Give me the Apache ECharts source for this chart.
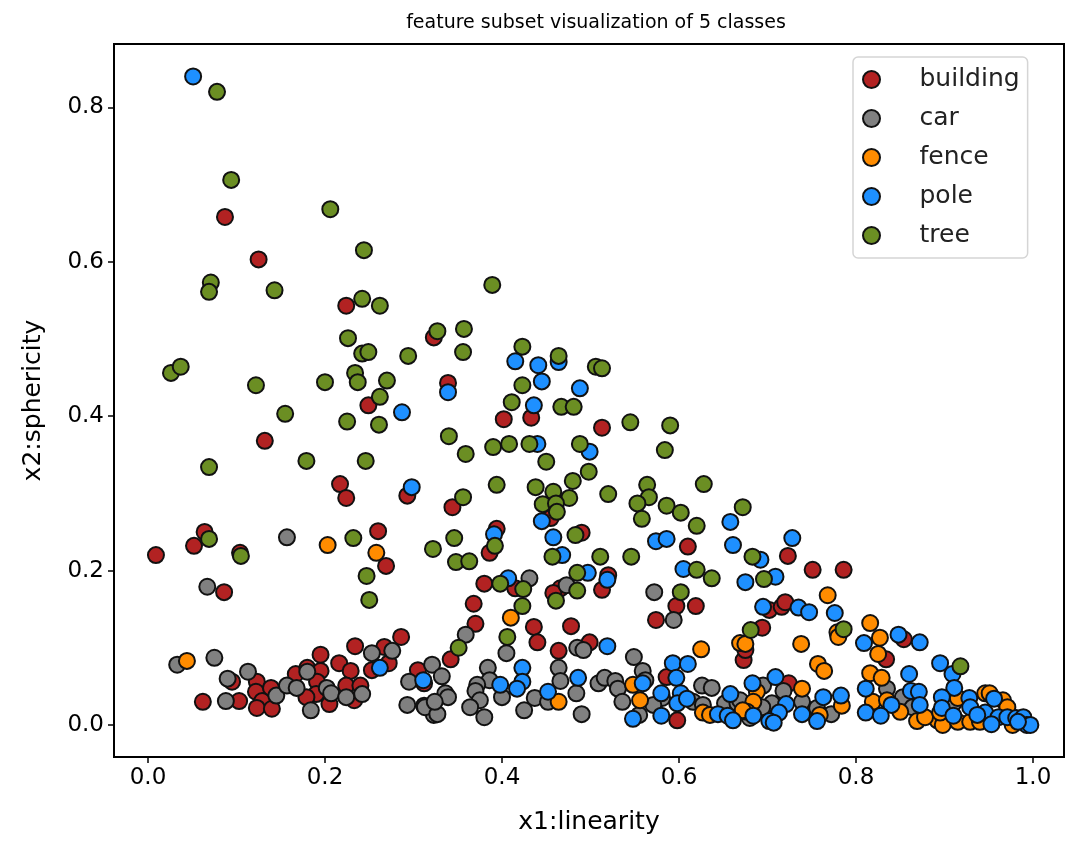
<!DOCTYPE html>
<html>
<head>
<meta charset="utf-8">
<style>html,body{margin:0;padding:0;background:#fff}#c{width:1066px;height:841px}</style>
<script src="https://cdn.jsdelivr.net/npm/echarts@6/dist/echarts.min.js"></script>
</head>
<body>
<div id="c"></div>
<script>
const xTicks = [0, 0.2, 0.4, 0.6, 0.8, 1.0];
const yTicks = [0, 0.2, 0.4, 0.6, 0.8];
const classNames = ['building', 'car', 'fence', 'pole', 'tree'];
const classColors = ['#b22222', '#808080', '#ff8c00', '#1e90ff', '#6b8e23'];

const building = [[.009,.220],[.087,.658],[.125,.603],[.224,.543],[.132,.368],[.323,.502],[.339,.443],[.249,.414],[.402,.396],[.433,.398],[.513,.385],[.217,.312],[.224,.294],[.293,.297],[.260,.251],[.064,.250],[.052,.232],[.104,.223],[.086,.172],[.269,.206],[.344,.282],[.394,.254],[.386,.223],[.380,.183],[.368,.157],[.370,.131],[.436,.127],[.440,.107],[.464,.096],[.478,.128],[.499,.107],[.513,.175],[.520,.194],[.490,.249],[.455,.268],[.610,.231],[.415,.177],[.466,.177],[.458,.171],[.597,.154],[.619,.154],[.574,.136],[.342,.085],[.586,.062],[.598,.006],[.751,.201],[.786,.201],[.723,.219],[.702,.149],[.716,.153],[.720,.159],[.694,.126],[.673,.084],[.675,.097],[.724,.054],[.834,.085],[.854,.111],[.062,.030],[.103,.031],[.095,.056],[.123,.056],[.122,.043],[.129,.031],[.123,.022],[.140,.021],[.139,.048],[.167,.066],[.180,.074],[.195,.091],[.195,.070],[.191,.056],[.190,.040],[.179,.036],[.205,.027],[.216,.080],[.229,.070],[.224,.051],[.240,.051],[.233,.032],[.234,.102],[.267,.101],[.286,.114],[.272,.080],[.253,.071],[.305,.071],[.312,.054]];

const car = [[.157,.243],[.067,.179],[.033,.078],[.075,.087],[.090,.060],[.113,.069],[.088,.031],[.145,.038],[.157,.051],[.168,.048],[.180,.069],[.184,.019],[.202,.048],[.207,.041],[.224,.036],[.242,.040],[.253,.093],[.276,.096],[.295,.056],[.321,.078],[.293,.026],[.312,.025],[.323,.013],[.332,.063],[.336,.041],[.339,.036],[.313,.023],[.327,.014],[.324,.030],[.384,.074],[.386,.058],[.372,.052],[.370,.044],[.375,.032],[.364,.023],[.380,.010],[.400,.036],[.405,.093],[.359,.117],[.464,.074],[.466,.057],[.484,.041],[.437,.035],[.425,.019],[.452,.030],[.490,.014],[.509,.054],[.516,.061],[.528,.057],[.531,.047],[.536,.030],[.549,.088],[.559,.070],[.562,.058],[.555,.013],[.581,.035],[.571,.026],[.594,.136],[.485,.100],[.492,.097],[.616,.030],[.626,.051],[.637,.048],[.627,.026],[.652,.028],[.666,.028],[.431,.190],[.473,.181],[.572,.172],[.718,.044],[.695,.051],[.705,.028],[.694,.023],[.669,.032],[.680,.009],[.739,.030],[.756,.022],[.772,.014],[.835,.047],[.853,.036],[.864,.023],[.910,.028]];

const fence = [[.203,.233],[.258,.223],[.044,.083],[.410,.139],[.625,.098],[.464,.030],[.548,.052],[.556,.032],[.627,.016],[.635,.013],[.669,.106],[.768,.168],[.816,.132],[.827,.113],[.825,.092],[.738,.105],[.757,.079],[.764,.070],[.675,.105],[.779,.120],[.780,.114],[.816,.067],[.829,.061],[.819,.030],[.835,.032],[.850,.017],[.869,.005],[.688,.043],[.684,.030],[.677,.017],[.672,.019],[.739,.047],[.784,.025],[.759,.013],[.892,.006],[.898,.000],[.915,.004],[.929,.004],[.915,.035],[.946,.041],[.951,.041],[.966,.032],[.971,.023],[.940,.004],[.878,.010],[.977,.000],[.895,.016]];

const pole = [[.051,.840],[.287,.405],[.339,.431],[.298,.308],[.415,.471],[.441,.466],[.445,.445],[.464,.470],[.488,.436],[.436,.414],[.440,.364],[.499,.354],[.445,.264],[.458,.243],[.391,.247],[.468,.220],[.407,.190],[.497,.197],[.519,.188],[.574,.238],[.586,.241],[.605,.202],[.658,.263],[.661,.233],[.692,.214],[.675,.185],[.709,.192],[.728,.242],[.695,.153],[.735,.152],[.747,.146],[.776,.145],[.809,.106],[.848,.117],[.872,.107],[.895,.080],[.909,.066],[.860,.066],[.811,.047],[.862,.044],[.871,.043],[.911,.048],[.897,.036],[.763,.036],[.783,.038],[.840,.026],[.872,.026],[.811,.016],[.828,.012],[.897,.022],[.910,.012],[.928,.035],[.929,.023],[.956,.034],[.946,.016],[.937,.013],[.961,.010],[.953,.001],[.971,.010],[.981,.009],[.989,.010],[.993,.000],[.997,.000],[.983,.004],[.683,.054],[.709,.062],[.721,.027],[.713,.016],[.702,.005],[.707,.003],[.684,.012],[.739,.014],[.756,.005],[.311,.058],[.423,.074],[.423,.056],[.398,.052],[.417,.047],[.452,.043],[.486,.061],[.519,.102],[.559,.054],[.548,.008],[.580,.041],[.580,.012],[.593,.080],[.610,.079],[.597,.061],[.602,.041],[.598,.028],[.609,.034],[.644,.014],[.658,.040],[.655,.012],[.661,.006],[.262,.074]];

const tree = [[.078,.820],[.094,.706],[.206,.668],[.244,.615],[.242,.552],[.071,.573],[.069,.561],[.143,.563],[.262,.543],[.389,.570],[.226,.501],[.327,.510],[.357,.513],[.026,.456],[.037,.464],[.122,.440],[.200,.444],[.242,.481],[.249,.483],[.234,.456],[.237,.444],[.270,.446],[.294,.478],[.356,.483],[.225,.393],[.261,.389],[.155,.403],[.340,.374],[.246,.342],[.179,.342],[.359,.351],[.069,.334],[.356,.295],[.394,.311],[.069,.241],[.105,.219],[.232,.242],[.322,.228],[.346,.242],[.247,.193],[.250,.162],[.348,.211],[.363,.212],[.262,.425],[.423,.490],[.464,.478],[.506,.464],[.513,.462],[.423,.440],[.411,.418],[.467,.412],[.481,.412],[.390,.360],[.408,.364],[.431,.364],[.488,.364],[.450,.341],[.545,.392],[.590,.388],[.584,.356],[.498,.328],[.480,.316],[.438,.308],[.458,.302],[.476,.294],[.446,.286],[.461,.287],[.462,.276],[.520,.299],[.564,.311],[.566,.295],[.553,.287],[.586,.284],[.602,.275],[.558,.267],[.620,.258],[.628,.312],[.672,.282],[.392,.232],[.483,.246],[.457,.218],[.511,.218],[.546,.218],[.398,.183],[.424,.176],[.485,.197],[.485,.174],[.423,.154],[.461,.161],[.602,.172],[.620,.201],[.637,.190],[.683,.218],[.696,.189],[.681,.123],[.786,.124],[.918,.076],[.406,.114],[.351,.100]];

const classData = [building, car, fence, pole, tree];
const FONT = '"DejaVu Sans"';
const INK = '#000';
const chart = echarts.init(document.getElementById('c'), null, {renderer: 'canvas'});

function axis(name, ticks, min, max, gap, rotate) {
  return {
    type: 'value', name, nameLocation: 'middle', nameGap: gap, nameRotate: rotate,
    nameTextStyle: {fontFamily: FONT, fontSize: 25, color: INK},
    min, max, splitLine: {show: false},
    axisLine: {show: true, onZero: false, lineStyle: {color: INK, width: 2}},
    axisTick: {show: true, length: 6, lineStyle: {color: INK, width: 1.5}, customValues: ticks},
    axisLabel: {show: true, margin: 10, fontFamily: FONT, fontSize: 23, color: INK,
      customValues: ticks, formatter: v => Number(v).toFixed(1)}
  };
}

chart.setOption({
  animation: false,
  backgroundColor: '#fff',
  title: {
    text: 'feature subset visualization of 5 classes',
    left: 591, top: 9, textAlign: 'center',
    textStyle: {fontFamily: FONT, fontSize: 19, fontWeight: 'normal', color: INK}
  },
  grid: {left: 114, right: 2, top: 44, bottom: 84, show: true, borderColor: INK, borderWidth: 2, backgroundColor: 'transparent'},
  xAxis: axis('x1:linearity', xTicks, -0.0384, 1.035, 53, 0),
  yAxis: axis('x2:sphericity', yTicks, -0.0415, 0.882, 68, 90),
  legend: {
    orient: 'vertical', left: 853, top: 57,
    padding: [10, 8, 10, 9], itemGap: 14, itemWidth: 58, itemHeight: 17,
    width: 186, height: 193,
    backgroundColor: 'rgba(255,255,255,.9)', borderColor: '#d5d5d5', borderWidth: 1.5, borderRadius: 5,
    textStyle: {fontFamily: FONT, fontSize: 25, color: '#222', padding: [0, 0, 0, 14]},
    data: classNames.map(n => ({name: n, icon: 'circle'}))
  },
  series: classNames.map((n, i) => ({
    type: 'scatter', name: n, data: classData[i], symbol: 'circle', symbolSize: 16,
    itemStyle: {color: classColors[i], opacity: 1, borderColor: '#111', borderWidth: 2},
    emphasis: {disabled: true}, large: false
  }))
});
</script>
</body>
</html>
